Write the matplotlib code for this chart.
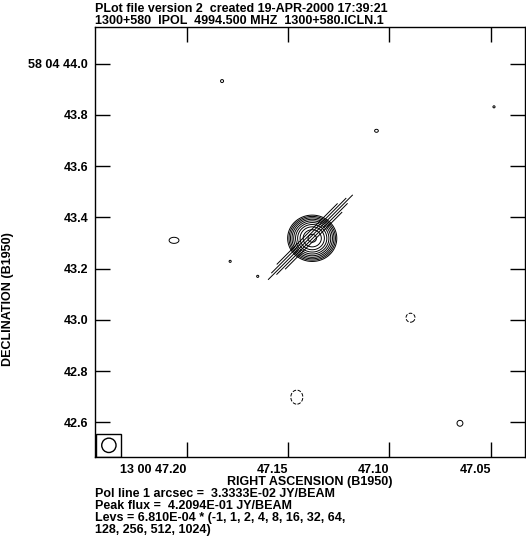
import numpy as np
import matplotlib
matplotlib.use("Agg")
import matplotlib.pyplot as plt
from matplotlib.patches import Ellipse, Rectangle

plt.rcParams['font.family'] = ['Liberation Sans', 'DejaVu Sans']
plt.rcParams['font.weight'] = 'bold'

# header / footer text
title1 = "PLot file version 2  created 19-APR-2000 17:39:21"
title2 = "1300+580  IPOL  4994.500 MHZ  1300+580.ICLN.1"
foot = ["Pol line 1 arcsec =  3.3333E-02 JY/BEAM",
        "Peak flux =  4.2094E-01 JY/BEAM",
        "Levs = 6.810E-04 * (-1, 1, 2, 4, 8, 16, 32, 64,",
        "128, 256, 512, 1024)"]

# axes: RA seconds (13 00 xx) and Dec arcsec (58 04 xx)
ra_ticks = [47.20, 47.15, 47.10, 47.05]
ra_labels = ["13 00 47.20", "47.15", "47.10", "47.05"]
dec_ticks = [44.0, 43.8, 43.6, 43.4, 43.2, 43.0, 42.8, 42.6]
dec_labels = ["58 04 44.0", "43.8", "43.6", "43.4", "43.2", "43.0", "42.8", "42.6"]
ra_lim = (47.2453, 47.0331)
dec_lim = (42.4645, 44.1426)

# contour levels
base = 6.810e-4
mult = [-1, 1, 2, 4, 8, 16, 32, 64, 128, 256, 512, 1024]

# clean components (ra s, dec arcsec, flux Jy/beam, sigma_x ", sigma_y ")
comp_ra = [47.1381, 47.1826, 47.1064, 47.0484, 47.2063, 47.1786, 47.1650,
           47.0896, 47.1457, 47.0652]
comp_dec = [43.318, 43.9316, 43.7375, 43.831, 43.310, 43.228, 43.1695,
            43.008, 42.698, 42.596]
comp_flux = [0.42094, 7.2e-4, 7.3e-4, 7.1e-4, 7.5e-4, 7.1e-4, 7.1e-4,
             -7.5e-4, -7.8e-4, 7.3e-4]
comp_sx = [0.0268, 0.018, 0.020, 0.015, 0.044, 0.015, 0.015, 0.040, 0.045, 0.031]
comp_sy = [0.0252, 0.018, 0.016, 0.015, 0.027, 0.015, 0.015, 0.040, 0.0525, 0.031]

# polarisation vectors
pol_ra = [47.1390, 47.1382, 47.1374, 47.1398, 47.1406]
pol_dec = [43.3219, 43.3153, 43.3088, 43.3285, 43.3350]
pol_flux = [0.0155, 0.0130, 0.0104, 0.0137, 0.0111]
pol_pa = [-45, -45, -45, -45, -45]
pol_scale = 3.3333e-2  # Jy/beam per arcsec

beam_fwhm = 0.056
ra_scale = 15 * np.cos(np.radians(58.0788))  # arcsec per RA second

fig = plt.figure(figsize=(5.26, 5.41), dpi=100)
ax = fig.add_axes([0.1806, 0.1553, 0.8175, 0.7948])

ra = np.linspace(ra_lim[1], ra_lim[0], 700)
dec = np.linspace(dec_lim[0], dec_lim[1], 700)
RA, DEC = np.meshgrid(ra, dec)
img = np.zeros_like(RA)
for r0, d0, f, sx, sy in zip(comp_ra, comp_dec, comp_flux, comp_sx, comp_sy):
    dx = (RA - r0) * ra_scale
    dy = DEC - d0
    img += f * np.exp(-0.5 * ((dx / sx) ** 2 + (dy / sy) ** 2))

levels = [base * m for m in mult]
ax.contour(RA, DEC, img, levels=[levels[0]], colors='k', linewidths=0.7,
           linestyles='dashed')
ax.contour(RA, DEC, img, levels=levels[1:], colors='k', linewidths=0.7,
           linestyles='solid')

for r0, d0, p, pa in zip(pol_ra, pol_dec, pol_flux, pol_pa):
    half = p / pol_scale / 2
    dn = half * np.cos(np.radians(pa))
    de = half * np.sin(np.radians(pa)) / ra_scale
    ax.plot([r0 - de, r0 + de], [d0 - dn, d0 + dn], color='k', lw=0.7)

# beam box
bw = 0.0123
bh = 0.091
ax.add_patch(Rectangle((ra_lim[0] - 0.0007, dec_lim[0]), -bw, bh, fill=False,
                       lw=1, color='k'))
ax.add_patch(Ellipse((ra_lim[0] - 0.0007 - bw / 2, dec_lim[0] + bh / 2),
                     beam_fwhm / ra_scale, beam_fwhm, fill=False, lw=1, color='k'))

ax.set_xlim(*ra_lim)
ax.set_ylim(*dec_lim)
ax.set_xticks(ra_ticks)
ax.set_xticklabels(ra_labels, ha='right')
ax.set_yticks(dec_ticks)
ax.set_yticklabels(dec_labels)
ax.tick_params(direction='in', length=11, width=1, top=True, right=True,
               labelsize=9, pad=5)
for s in ax.spines.values():
    s.set_linewidth(1)

ax.set_xlabel("RIGHT ASCENSION (B1950)", fontsize=9, fontweight='bold', labelpad=0)
fig.text(0.015, 0.447, "DECLINATION (B1950)", rotation=90, fontsize=9,
         fontweight='bold', ha='center', va='center')

fig.text(0.1806, 0.995, title1, fontsize=9, fontweight='bold', va='top')
fig.text(0.1806, 0.973, title2, fontsize=9, fontweight='bold', va='top')
for i, line in enumerate(foot):
    fig.text(0.1806, 1 - (494 + 12 * i) / 541, line, fontsize=9,
             fontweight='bold', va='center')

fig.savefig("out.png", dpi=100)
